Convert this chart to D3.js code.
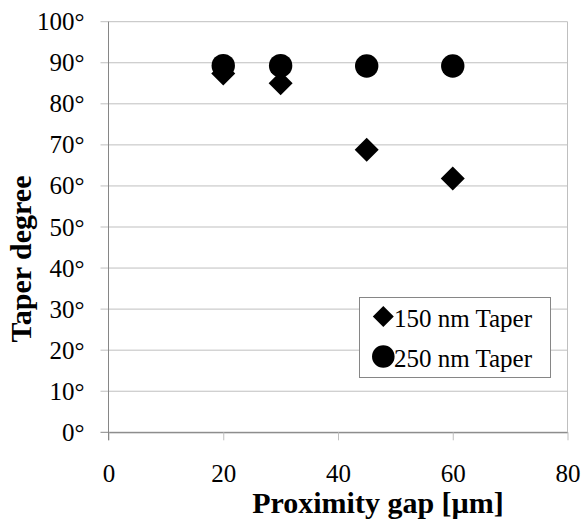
<!DOCTYPE html>
<html>
<head>
<meta charset="utf-8">
<script src="https://cdn.jsdelivr.net/npm/d3@7"></script>
<style>
  html, body { margin: 0; padding: 0; background: #fff; }
  svg { display: block; }
  text { font-family: "Liberation Serif", "Times New Roman", serif; fill: #000; }
</style>
</head>
<body>
<svg id="chart" width="584" height="520"></svg>
<script>
// ---- data ----
const gapValues = [20, 30, 45, 60];               // Proximity gap [µm]
const taper150 = [87.4, 85.0, 68.8, 61.8];        // 150 nm Taper (degrees)
const taper250 = [89.3, 89.3, 89.2, 89.2];        // 250 nm Taper (degrees)
const seriesNames = ["150 nm Taper", "250 nm Taper"];
const xTicks = [0, 20, 40, 60, 80];
const yTicks = [0, 10, 20, 30, 40, 50, 60, 70, 80, 90, 100];
const xTitle = "Proximity gap [µm]";
const yTitle = "Taper degree";

// ---- layout ----
const svg = d3.select("#chart");
const pLeft = 108.5, pRight = 567.5, pTop = 21.7, pBottom = 432.3;
const x = d3.scaleLinear().domain([0, 80]).range([pLeft, pRight]);
const y = d3.scaleLinear().domain([0, 100]).range([pBottom, pTop]);
const gridColor = "#bfbfbf", axisColor = "#868686";

// horizontal gridlines (extend 8px left as outer ticks)
svg.append("g")
  .selectAll("line").data(yTicks).join("line")
  .attr("x1", pLeft - 8).attr("x2", pRight)
  .attr("y1", d => y(d)).attr("y2", d => y(d))
  .attr("stroke", d => d === 0 ? axisColor : gridColor)
  .attr("stroke-width", 1);

// right border of plot area
svg.append("line")
  .attr("x1", pRight).attr("x2", pRight).attr("y1", pTop).attr("y2", pBottom)
  .attr("stroke", gridColor);

// y axis labels
const yAxis = d3.axisLeft(y).tickValues(yTicks).tickSize(0).tickPadding(24)
  .tickFormat(d => d + "°");
const gy = svg.append("g").attr("transform", `translate(${pLeft},0)`).call(yAxis);
gy.select(".domain").remove();
gy.selectAll("text").style("font-size", "25px").style("font-family", "Liberation Serif, serif").attr("fill", "#000");

// x axis
const xAxis = d3.axisBottom(x).tickValues(xTicks).tickSize(8).tickPadding(24).tickSizeOuter(0);
const gx = svg.append("g").attr("transform", `translate(0,${pBottom})`).call(xAxis);
gx.select(".domain").attr("stroke", axisColor);
gx.selectAll(".tick line").attr("stroke", gridColor);
gx.selectAll("text").style("font-size", "25px").style("font-family", "Liberation Serif, serif").attr("fill", "#000");

// y axis line
svg.append("line")
  .attr("x1", pLeft).attr("x2", pLeft).attr("y1", pTop).attr("y2", pBottom + 8)
  .attr("stroke", axisColor);

// ---- marks ----
const diamond = d3.symbol().type(d3.symbolSquare).size(288);
const circle = d3.symbol().type(d3.symbolCircle).size(430);

svg.append("g").selectAll("path").data(gapValues).join("path")
  .attr("d", diamond)
  .attr("transform", (d, i) => `translate(${x(d)},${y(taper150[i])}) rotate(45)`)
  .attr("fill", "#000");

svg.append("g").selectAll("path").data(gapValues).join("path")
  .attr("d", circle)
  .attr("transform", (d, i) => `translate(${x(d)},${y(taper250[i])})`)
  .attr("fill", "#000");

// ---- titles ----
svg.append("text")
  .attr("x", 378).attr("y", 513)
  .attr("text-anchor", "middle")
  .style("font-size", "30px").style("font-weight", "bold")
  .text(xTitle);

svg.append("text")
  .attr("transform", "translate(31,259) rotate(-90)")
  .attr("text-anchor", "middle")
  .style("font-size", "30px").style("font-weight", "bold")
  .text(yTitle);

// ---- legend ----
const lg = svg.append("g");
lg.append("rect")
  .attr("x", 359.5).attr("y", 297.5).attr("width", 191).attr("height", 80)
  .attr("fill", "#fff").attr("stroke", axisColor);
const legendSymbols = [d3.symbol().type(d3.symbolSquare).size(220), d3.symbol().type(d3.symbolCircle).size(400)];
const rowY = [316.5, 356.5];
seriesNames.forEach((name, i) => {
  lg.append("path").attr("d", legendSymbols[i])
    .attr("transform", `translate(383.3,${rowY[i]})` + (i === 0 ? " rotate(45)" : ""))
    .attr("fill", "#000");
  lg.append("text").attr("x", 394).attr("y", rowY[i] + 10.5)
    .style("font-size", "25px").text(name);
});
</script>
</body>
</html>
